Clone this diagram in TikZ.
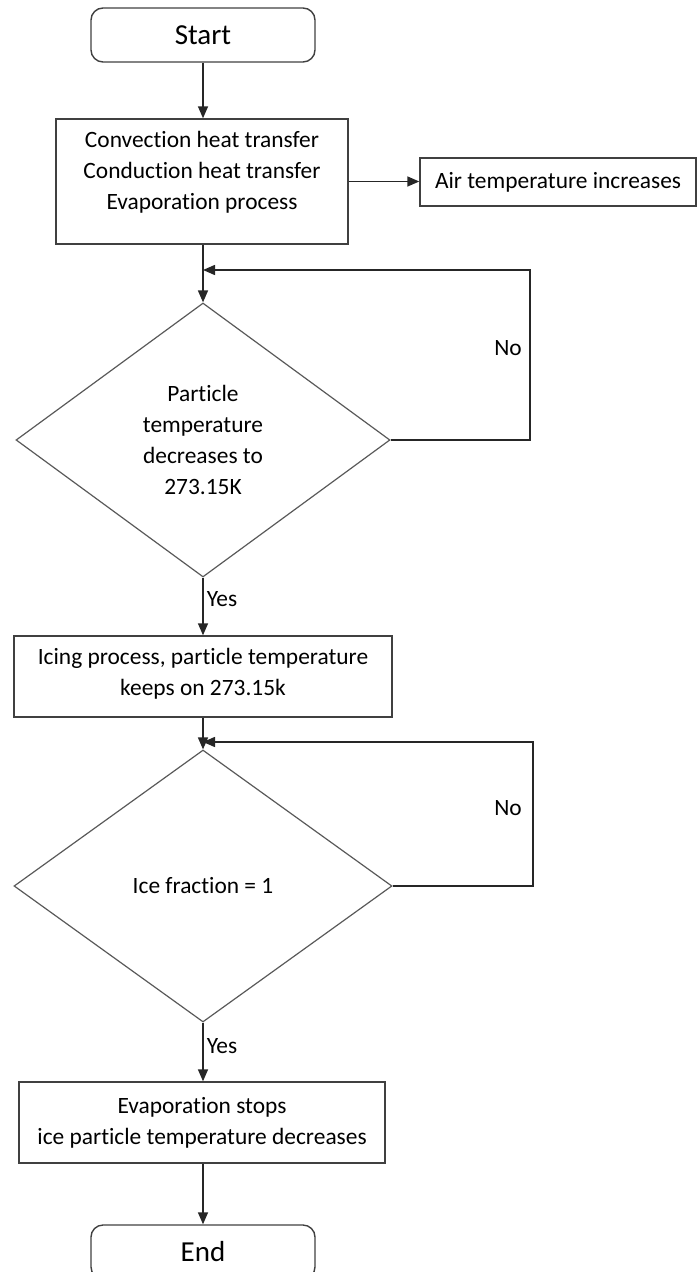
\documentclass[tikz,border=0pt]{standalone}
\usepackage{fontspec}
\setmainfont{Carlito}[Ligatures=NoCommon]
\usetikzlibrary{shapes.geometric,arrows.meta}

\begin{document}
\begin{tikzpicture}[x=0.5pt,y=-0.5pt,
    every node/.style={font=\fontsize{11.7}{15.5}\selectfont, text=black},
    terminal/.style={draw=black!75, line width=0.7pt, rounded corners=6pt,
        minimum width=112pt, minimum height=27pt, inner sep=0pt,
        font=\fontsize{14.5}{17}\selectfont},
    process/.style={draw=black!75, line width=0.7pt, align=center, inner sep=0pt},
    decision/.style={draw=black!65, line width=0.6pt, diamond, align=center,
        minimum width=187pt, minimum height=137pt, inner sep=0pt},
    flow/.style={draw=black!85, line width=0.75pt, -{Triangle[length=6pt,width=5pt]}},
    tag/.style={inner sep=1.5pt}]
    \useasboundingbox (0,0) rectangle (697,1272);
    % boxes
    \node[terminal] (start) at (203,35) {Start};
    \node[process, minimum width=146pt, minimum height=62.5pt, text depth=11pt]
        (heat) at (202,181.5) {Convection heat transfer\\Conduction heat transfer\\Evaporation process};
    \node[process, minimum width=138pt, minimum height=24pt]
        (air) at (558,182) {Air temperature increases};
    \node[decision] (check1) at (203,440) {Particle\\temperature\\decreases to\\273.15K};
    \node[process, minimum width=189pt, minimum height=40.5pt, text depth=4.5pt]
        (icing) at (203,676.5) {Icing process, particle temperature\\keeps on 273.15k};
    \node[decision, minimum width=189pt, minimum height=136pt] (check2) at (203,886)
        {\raisebox{-5pt}{Ice fraction = 1}};
    \node[process, minimum width=183pt, minimum height=40.5pt]
        (stops) at (202,1122.5) {Evaporation stops\\ice particle temperature decreases};
    \node[terminal] (end) at (203,1252) {End};
    % loop points
    \coordinate (join1) at (203,270);
    \coordinate (back1) at (530,270);
    \coordinate (join2) at (203,742);
    \coordinate (back2) at (533,742);
    % connectors
    \draw[flow] (start) -- (start |- heat.north);
    \draw[flow] (heat.east) -- (heat.east -| air.west);
    \draw[flow] (check1.north |- heat.south) -- (check1.north);
    \draw[flow] (check1.east) -| (back1) -- (join1);
    \draw[flow] (check1.south) -- node[tag, right, pos=0.38] (yes1) {Yes} (icing.north -| check1.south);
    \draw[flow] (check2.north |- icing.south) -- (check2.north);
    \draw[flow] (check2.east) -| (back2) -- (join2);
    \draw[flow] (check2.south) -- node[tag, right, pos=0.4] (yes2) {Yes} (stops.north -| check2.south);
    \draw[flow] (end.north |- stops.south) -- (end.north);
    % labels
    \node[tag] (no1) at (508,348) {No};
    \node[tag] (no2) at (508,808) {No};
\end{tikzpicture}
\end{document}
